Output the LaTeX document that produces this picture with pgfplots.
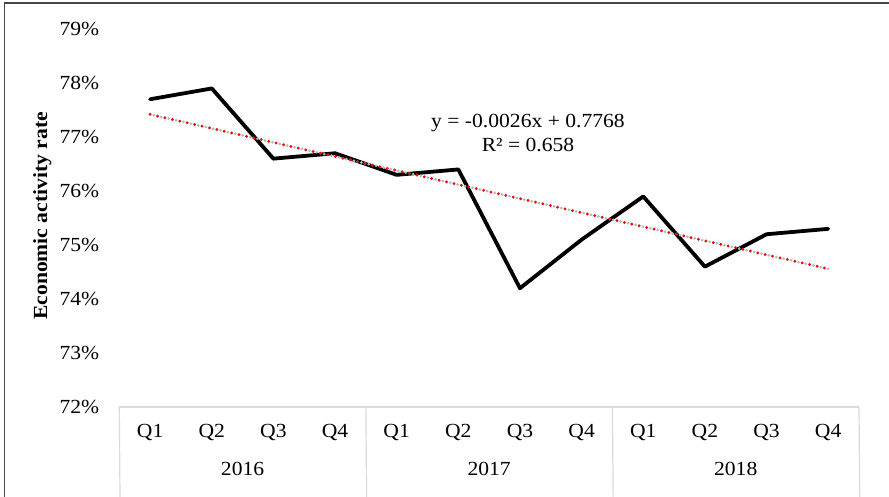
\documentclass[border=0pt]{standalone}
\usepackage{fontspec}
\setmainfont{Liberation Serif}[FakeStretch=1.08]
\usepackage{pgfplots}
\pgfplotsset{compat=1.18}
\begin{document}
\begin{tikzpicture}
\useasboundingbox (-119.3pt,-90pt) rectangle (769.7pt,407pt);
\draw[color=black!72, line width=1.4pt] (-114.6pt,-90pt) -- (-114.6pt,404pt) -- (769.7pt,404pt);
\begin{axis}[
  at={(0pt,0pt)}, anchor=south west,
  scale only axis,
  width=739.7pt, height=378pt,
  xmin=-0.5, xmax=11.5,
  ymin=72, ymax=79,
  axis y line=none,
  axis x line=none,
  xtick=\empty, ytick=\empty,
  clip=false,
]
\pgfplotsinvokeforeach{72,73,74,75,76,77,78,79}{
  \node[anchor=east, inner sep=0pt, font=\fontsize{20}{24}\selectfont] at (axis cs:-0.5,#1) [xshift=-20pt] {#1\%};
}
\node[xshift=-77pt, rotate=90, font=\bfseries\fontsize{20}{24}\selectfont] at (axis cs:-0.5,75.54) {Economic activity rate};
% category axis
\draw[color=black!15, line width=1.2pt] (axis cs:-0.5,72) -- (axis cs:11.5,72);
\pgfplotsinvokeforeach{-0.5,3.5,7.5,11.5}{
  \draw[color=black!15, line width=1.2pt] (axis cs:#1,72) -- ++(0,-78pt);
}
\node[font=\fontsize{20}{24}\selectfont] at (axis cs:0,72) [yshift=-25pt] {Q1};
\node[font=\fontsize{20}{24}\selectfont] at (axis cs:1,72) [yshift=-25pt] {Q2};
\node[font=\fontsize{20}{24}\selectfont] at (axis cs:2,72) [yshift=-25pt] {Q3};
\node[font=\fontsize{20}{24}\selectfont] at (axis cs:3,72) [yshift=-25pt] {Q4};
\node[font=\fontsize{20}{24}\selectfont] at (axis cs:4,72) [yshift=-25pt] {Q1};
\node[font=\fontsize{20}{24}\selectfont] at (axis cs:5,72) [yshift=-25pt] {Q2};
\node[font=\fontsize{20}{24}\selectfont] at (axis cs:6,72) [yshift=-25pt] {Q3};
\node[font=\fontsize{20}{24}\selectfont] at (axis cs:7,72) [yshift=-25pt] {Q4};
\node[font=\fontsize{20}{24}\selectfont] at (axis cs:8,72) [yshift=-25pt] {Q1};
\node[font=\fontsize{20}{24}\selectfont] at (axis cs:9,72) [yshift=-25pt] {Q2};
\node[font=\fontsize{20}{24}\selectfont] at (axis cs:10,72) [yshift=-25pt] {Q3};
\node[font=\fontsize{20}{24}\selectfont] at (axis cs:11,72) [yshift=-25pt] {Q4};
\node[font=\fontsize{20}{24}\selectfont] at (axis cs:1.5,72) [yshift=-62pt] {2016};
\node[font=\fontsize{20}{24}\selectfont] at (axis cs:5.5,72) [yshift=-62pt] {2017};
\node[font=\fontsize{20}{24}\selectfont] at (axis cs:9.5,72) [yshift=-62pt] {2018};
% data
\addplot[black, line width=3.8pt, line join=round, line cap=round] coordinates {
  (0,77.7) (1,77.9) (2,76.6) (3,76.7) (4,76.3) (5,76.4)
  (6,74.2) (7,75.1) (8,75.9) (9,74.6) (10,75.2) (11,75.3)
};
% trendline
\addplot[black!28, line width=3pt, line cap=round, dash pattern=on 0pt off 3.8pt] coordinates {(0,77.42) (11,74.56)};
\addplot[red, line width=3pt, line cap=round, dash pattern=on 0pt off 7.6pt] coordinates {(0,77.42) (11,74.56)};
\node[font=\fontsize{20}{24}\selectfont, align=center] at (axis cs:6.13,77.07) {y = -0.0026x + 0.7768\\R² = 0.658};
\end{axis}
\end{tikzpicture}
\end{document}
